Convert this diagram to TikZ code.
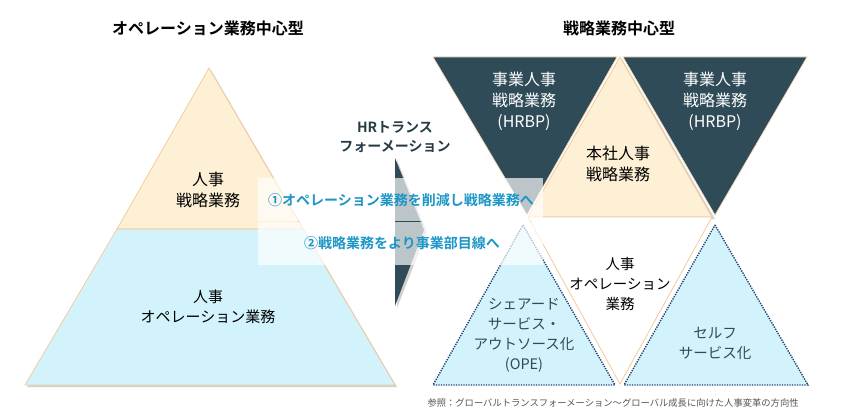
\documentclass[tikz,border=0pt]{standalone}
\usepackage{fontspec}
\setmainfont{Noto Sans CJK JP}[BoldFont={Noto Sans CJK JP Bold}]
\definecolor{tanfill}{HTML}{FDF0D4}
\definecolor{tanline}{HTML}{F3CB9C}
\definecolor{skyfill}{HTML}{D3F3FC}
\definecolor{slate}{HTML}{2F4B57}
\definecolor{dotblue}{HTML}{1F3F70}
\definecolor{bandtext}{HTML}{1D96C6}
\definecolor{notegray}{HTML}{555555}

\begin{document}
\begin{tikzpicture}[x=1pt,y=-1pt,
  tan/.style={fill=tanfill,draw=tanline,line width=0.8pt},
  sky/.style={fill=skyfill,draw=tanline,line width=0.8pt},
  dark/.style={fill=slate,draw=tanline!70,line width=0.7pt},
  dottri/.style={fill=skyfill,draw=dotblue,line width=1.4pt,dash pattern=on 1.3pt off 1.2pt},
  shadowfill/.style={fill=black,opacity=0.18},
  band/.style={fill=white,opacity=0.68},
  label/.style={align=center,font=\fontsize{16}{21}\selectfont},
  smalllabel/.style={align=center,text=slate,font=\fontsize{14.5}{20}\selectfont},
  title/.style={font=\bfseries\fontsize{16}{20}\selectfont},
  bandlabel/.style={text=bandtext,font=\bfseries\fontsize{14}{18}\selectfont}]
\useasboundingbox (0,0) rectangle (846,420);

% left pyramid
\fill[shadowfill] (211,70) -- (305,231) -- (120,231) -- cycle;
\fill[shadowfill] (120,231) -- (305,231) -- (397,387) -- (27,387) -- cycle;
\draw[tan] (209,68) -- (303,229) -- (117,229) -- cycle;
\draw[sky] (117,229) -- (303,229) -- (395,385) -- (25,385) -- cycle;

% arrow
\fill[shadowfill] (397,160) -- (427,232) -- (397,308) -- cycle;
\fill[slate] (395,158) -- (424,230) -- (395,306) -- cycle;

% right side
\draw[dark] (433,57) -- (617,57) -- (527,215) -- cycle;
\draw[dark] (623,57) -- (807,57) -- (715,215) -- cycle;
\fill[shadowfill] (622,59) -- (715,219) -- (530,219) -- cycle;
\draw[tan] (620,57) -- (712,217) -- (528,217) -- cycle;
\draw[fill=white,draw=tanline,line width=0.8pt] (528,217) -- (712,217) -- (620,384) -- cycle;
\draw[dottri] (523,225) -- (615,385) -- (433,385) -- cycle;
\draw[dottri] (715,225) -- (808,385) -- (624,385) -- cycle;

% bands
\fill[band] (258,178) rectangle (543,220.5);
\fill[band] (258,222) rectangle (543,265);

\node[title] (opTitle) at (208,28) {オペレーション業務中心型};
\node[title] (stratTitle) at (619,28) {戦略業務中心型};
\node[label] (leftTop) at (208,190) {人事\\戦略業務};
\node[label,font=\fontsize{15}{20}\selectfont] (leftBottom) at (208,307) {人事\\オペレーション業務};
\node[align=center,text=slate!80!black,font=\bfseries\fontsize{14}{19}\selectfont] (hrLabel) at (395,137) {HRトランス\\フォーメーション};
\node[bandlabel] (stepOne) at (401,200) {①オペレーション業務を削減し戦略業務へ};
\node[bandlabel] (stepTwo) at (402,243) {②戦略業務をより事業部目線へ};
\node[label,text=white] (hrbpLeft) at (524,101) {事業人事\\戦略業務\\(HRBP)};
\node[label,text=white] (hrbpRight) at (715,101) {事業人事\\戦略業務\\(HRBP)};
\node[label] (honsha) at (618,164) {本社人事\\戦略業務};
\node[smalllabel,text=black] (opeMid) at (620,284) {人事\\オペレーション\\業務};
\node[smalllabel] (shared) at (524,335) {シェアード\\サービス・\\アウトソース化\\(OPE)};
\node[smalllabel] (selfServ) at (715,343) {セルフ\\サービス化};
\node[anchor=west,text=notegray,font=\fontsize{9.3}{11}\selectfont] (note) at (424,403) {参照：グローバルトランスフォーメーション～グローバル成長に向けた人事変革の方向性};
\end{tikzpicture}
\end{document}
